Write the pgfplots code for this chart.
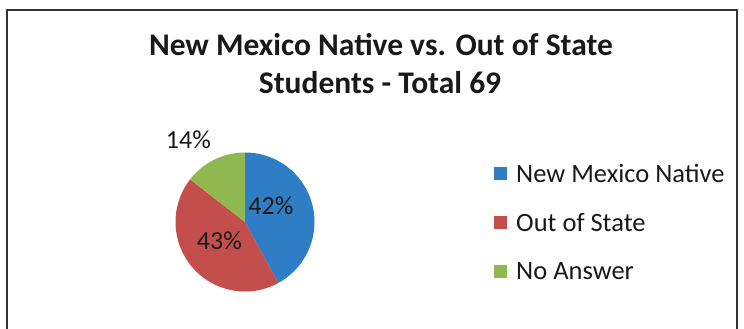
\documentclass[border=0pt]{standalone}
\usepackage{fontspec}
\setmainfont{Carlito}
\usepackage{pgfplots}
\usepackage{pgfplotstable}
\pgfplotsset{compat=1.18}
\definecolor{nmblue}{RGB}{47,125,196}
\definecolor{osred}{RGB}{196,78,76}
\definecolor{nagreen}{RGB}{143,185,80}
\definecolor{txt}{RGB}{25,25,25}
\pgfplotstableread{
group count
NM 29
OS 30
NA 10
}\piedata
\begin{document}
\begin{tikzpicture}[x=1pt,y=1pt]
\useasboundingbox (0,0) rectangle (744,329);
\pgfplotstablegetelem{0}{count}\of\piedata \pgfmathsetmacro\va{\pgfplotsretval}
\pgfplotstablegetelem{1}{count}\of\piedata \pgfmathsetmacro\vb{\pgfplotsretval}
\pgfplotstablegetelem{2}{count}\of\piedata \pgfmathsetmacro\vc{\pgfplotsretval}
\pgfmathsetmacro\tot{\va+\vb+\vc}
\pgfmathsetmacro\aA{90}
\pgfmathsetmacro\aB{90-360*\va/\tot}
\pgfmathsetmacro\aC{\aB-360*\vb/\tot}
\pgfmathsetmacro\aD{\aC-360*\vc/\tot}
\draw[line width=1.2pt, black!80] (7,0) -- (7,319) -- (737,319) -- (737,0);
\node[anchor=base, font=\bfseries\fontsize{31.5}{38}\selectfont, text=txt, inner sep=0pt] at (381,273) {New Mexico Native vs. Out of State};
\node[anchor=base, font=\bfseries\fontsize{31.5}{38}\selectfont, text=txt, inner sep=0pt] at (380,235.7) {Students - Total 69};
\begin{axis}[at={(245pt,107pt)}, anchor=origin, width=139pt, height=139pt, scale only axis, hide axis,
  xmin=-1, xmax=1, ymin=-1, ymax=1, clip=false,
  legend image code/.code={\path[#1] (0pt,-6.5pt) rectangle (13pt,6.5pt);},
  legend cell align=left,
  legend style={at={(axis cs:3.583,0.841)}, anchor=north west, draw=none, fill=none, inner sep=0pt,
    font=\fontsize{26.5}{31}\selectfont, text=txt, row sep=29.5pt,
    nodes={inner sep=0pt},
    /tikz/column 1/.style={column sep=9pt}}]
\fill[nmblue] (axis cs:0,0) -- (axis cs:0,1) arc[start angle=\aA, end angle=\aB, radius=1] -- cycle;
\fill[osred] (axis cs:0,0) -- (axis cs:{cos(\aB)},{sin(\aB)}) arc[start angle=\aB, end angle=\aC, radius=1] -- cycle;
\fill[nagreen] (axis cs:0,0) -- (axis cs:{cos(\aC)},{sin(\aC)}) arc[start angle=\aC, end angle=\aD, radius=1] -- cycle;
\addlegendimage{fill=nmblue, draw=none}
\addlegendentry{New Mexico Native}
\addlegendimage{fill=osred, draw=none}
\addlegendentry{Out of State}
\addlegendimage{fill=nagreen, draw=none}
\addlegendentry{No Answer}
\node[anchor=base west, inner sep=0pt, font=\fontsize{26}{31}\selectfont, text=txt] at (axis cs:0.047,0.115) {42\%};
\node[anchor=base west, inner sep=0pt, font=\fontsize{26}{31}\selectfont, text=txt] at (axis cs:-0.695,-0.393) {43\%};
\node[anchor=base west, inner sep=0pt, font=\fontsize{26}{31}\selectfont, text=txt] at (axis cs:-1.141,1.060) {14\%};
\end{axis}
\end{tikzpicture}
\end{document}
